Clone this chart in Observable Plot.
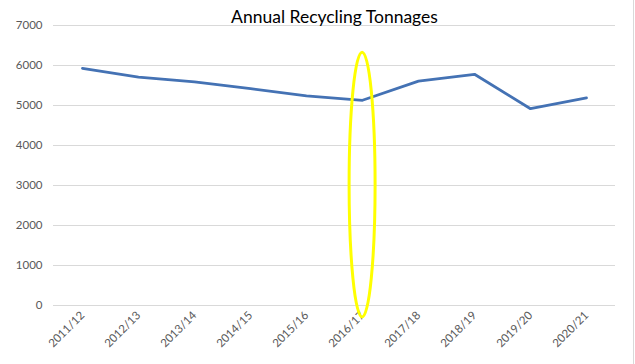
<!DOCTYPE html>
<html>
<head>
<meta charset="utf-8">
<script src="https://cdn.jsdelivr.net/npm/d3@7"></script>
<script src="https://cdn.jsdelivr.net/npm/@observablehq/plot@0.6"></script>
<style>
  html, body { margin: 0; padding: 0; background: #fff; }
  #wrap { position: relative; width: 635px; height: 364px; overflow: hidden; }
  #wrap::after { content: ""; position: absolute; right: 1px; top: 0; bottom: 0; border-right: 1px solid #d9d9d9; }
</style>
</head>
<body>
<div id="wrap"></div>
<script>
const title = "Annual Recycling Tonnages";
const years = ["2011/12","2012/13","2013/14","2014/15","2015/16","2016/17","2017/18","2018/19","2019/20","2020/21"];
const tonnages = [5930, 5710, 5590, 5420, 5240, 5130, 5610, 5780, 4920, 5190];
const yTicks = [0, 1000, 2000, 3000, 4000, 5000, 6000, 7000];
// highlight annotation (yellow ellipse) around one year
const highlightYear = "2016/17";
const highlightTop = 6320;
const highlightBottom = -300;

const data = years.map((y, i) => ({year: y, value: tonnages[i]}));

const chart = Plot.plot({
  width: 635,
  height: 364,
  marginLeft: 53,
  marginRight: 20,
  marginTop: 25,
  marginBottom: 59,
  style: {fontFamily: "Lato, 'Open Sans', sans-serif", fontSize: "11.5px", color: "#595959", background: "#fff"},
  x: {type: "point", domain: years, padding: 0.5, label: null, tickSize: 0, tickPadding: 8, tickRotate: -45},
  y: {domain: [0, 7000], ticks: yTicks, tickFormat: d => String(d), label: null, tickSize: 0, tickPadding: 11, grid: false},
  marks: [
    Plot.ruleY(yTicks, {stroke: "#d9d9d9", strokeWidth: 1}),
    Plot.line(data, {x: "year", y: "value", stroke: "#4472b4", strokeWidth: 2.8, strokeLinejoin: "round", strokeLinecap: "round"}),
    Plot.text([title], {frameAnchor: "top", dy: -8, fontSize: 17.5, fill: "#000", lineAnchor: "middle"})
  ]
});

document.getElementById("wrap").appendChild(chart);

// yellow ellipse annotation positioned through the chart's scales
const sx = chart.scale("x");
const sy = chart.scale("y");
const xs = d3.scalePoint().domain(sx.domain).range(sx.range).padding(sx.padding ?? 0.5).align(sx.align ?? 0.5);
const ys = d3.scaleLinear().domain(sy.domain).range(sy.range);
const cx = xs(highlightYear);
const yTop = ys(highlightTop), yBot = ys(highlightBottom);
d3.select(chart).append("ellipse")
  .attr("cx", cx)
  .attr("cy", (yTop + yBot) / 2)
  .attr("rx", 13)
  .attr("ry", Math.abs(yBot - yTop) / 2)
  .attr("fill", "none")
  .attr("stroke", "#ffff00")
  .attr("stroke-width", 3);
</script>
</body>
</html>
